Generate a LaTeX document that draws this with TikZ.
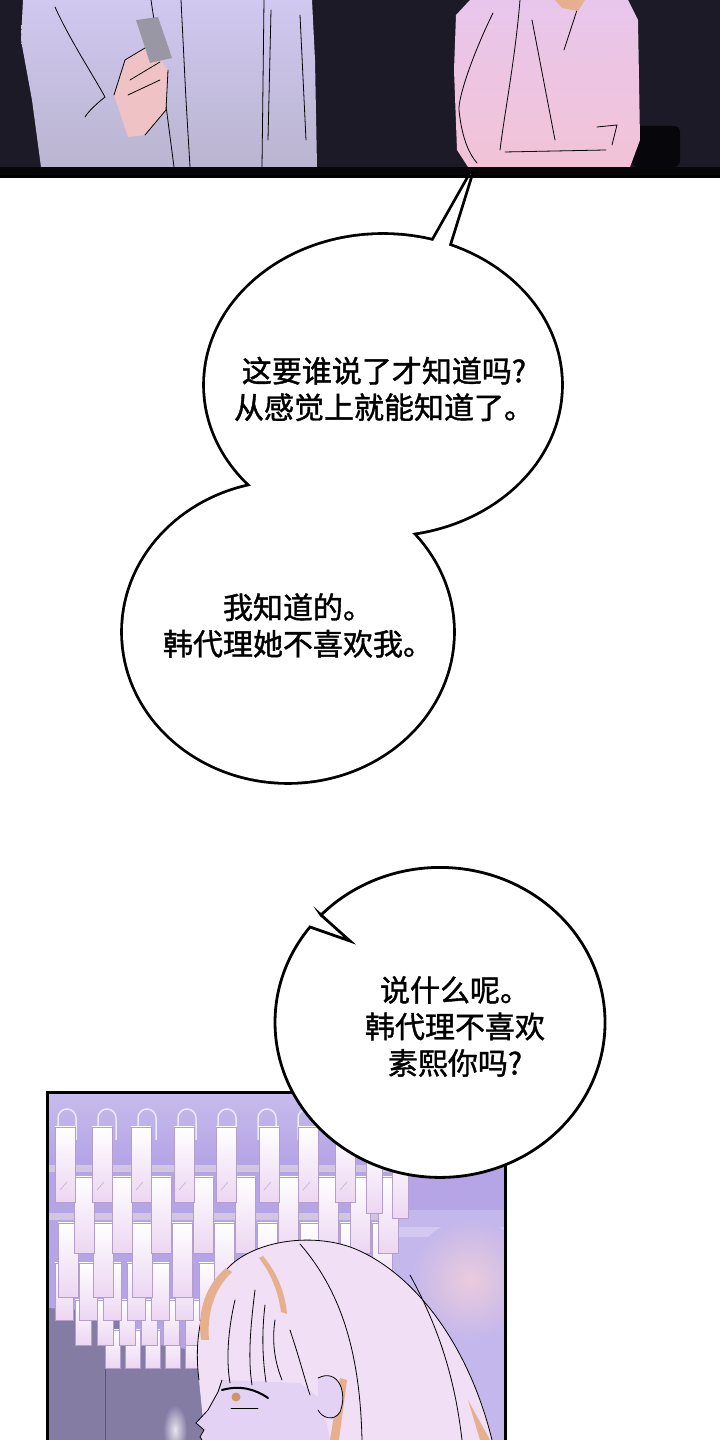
\documentclass[tikz,border=0pt]{standalone}
\usepackage{fontspec}
\newfontfamily\cjk[FakeBold=1.3]{Noto Sans CJK SC}
\definecolor{night}{HTML}{1C1A27}
\definecolor{shirtA}{HTML}{D0C8F0}
\definecolor{shirtB}{HTML}{BAB5D0}
\definecolor{blouseA}{HTML}{E8C6EC}
\definecolor{blouseB}{HTML}{F2C3D6}
\definecolor{skin}{HTML}{EFC3C6}
\definecolor{lilac}{HTML}{B5A5E6}
\definecolor{crystal}{HTML}{ECD6F2}
\definecolor{rim}{HTML}{B49ECB}
\definecolor{hair}{HTML}{F0DFF5}
\definecolor{face}{HTML}{E3D2F3}
\definecolor{streak}{HTML}{E6B08F}
\definecolor{dusk}{HTML}{857CA4}
\tikzset{
  say/.style={align=center,inner sep=0pt,font=\cjk\fontsize{30}{36.5}\selectfont},
  crys/.style={top color=white,bottom color=crystal,draw=rim,line width=0.6pt},
  ink/.style={line width=0.8pt,line cap=round}
}
\begin{document}
\begin{tikzpicture}[x=1pt,y=1pt]
\useasboundingbox (0,0) rectangle (720,1440);
\fill[white] (0,0) rectangle (720,1440);

\fill[night] (0,1264) rectangle (720,1440);
\fill[black!80!night] (0,1264) rectangle (720,1273);
\fill[black!75!night,rounded corners=6] (632,1273) rectangle (680,1314);
\shade[top color=shirtA,bottom color=shirtB] (23,1440) -- (21,1400) -- (32,1340) -- (41,1273) -- (317,1273) -- (315,1380) -- (312,1440) -- cycle;
\draw[ink] (55,1433) .. controls (70,1400) and (90,1370) .. (105,1343) .. controls (95,1335) and (88,1328) .. (85,1323);
\draw[ink] (151,1440) -- (160,1380) -- (174,1273);
\draw[ink] (181,1440) -- (186,1340) -- (190,1273);
\draw[ink] (264,1440) -- (262,1273);
\draw[ink] (271,1430) -- (268,1300);
\draw[ink] (300,1425) -- (306,1300);
\fill[skin] (114,1345) -- (125,1380) -- (150,1395) -- (168,1370) -- (166,1330) -- (145,1305) -- (128,1303) -- cycle;
\draw[ink] (114,1345) -- (125,1380) -- (150,1395);
\draw[ink] (168,1370) -- (166,1330) -- (145,1305);
\draw[ink] (130,1360) -- (160,1378);
\draw[ink] (128,1345) -- (160,1360);
\fill[gray!55!shirtB] (136,1420) -- (158,1423) -- (172,1382) -- (150,1377) -- cycle;

\shade[top color=blouseA,bottom color=blouseB] (470,1440) -- (456,1425) -- (454,1370) -- (457,1290) -- (468,1273) -- (630,1273) -- (640,1300) -- (638,1420) -- (628,1440) -- cycle;
\draw[ink] (493,1427) .. controls (470,1380) and (458,1340) .. (459,1330) .. controls (462,1300) and (470,1285) .. (477,1277);
\draw[ink] (532,1420) -- (541,1373) -- (555,1300);
\draw[ink] (578,1433) -- (564,1390);
\draw[ink] (505,1288) -- (606,1290);
\draw[ink] (597,1313) -- (617,1315) -- (612,1295);
\draw[ink] (520,1440) .. controls (515,1380) and (505,1330) .. (500,1290);
\fill[streak] (555,1440) -- (585,1440) -- (578,1429) -- (562,1432) -- cycle;

\begin{scope}
\clip (47,0) rectangle (505,347);
\fill[lilac] (47,0) rectangle (505,347);
\shade[top color=lilac!75!white,bottom color=lilac] (47,280) rectangle (505,347);
\fill[lilac!80!white] (392,0) rectangle (505,230);
\fill[lilac!60!white] (392,203) rectangle (505,213);
\shade[inner color=pink!60!lilac!70!white,outer color=lilac!80!white] (470,160) circle (60);
\fill[dusk] (47,0) -- (47,132) -- (110,128) -- (160,95) -- (205,88) -- (205,0) -- cycle;
\draw[dusk!70!black] (105,0) -- (105,110);
\shade[inner color=white!80!dusk,outer color=dusk] (175,10) ellipse (12 and 25);
\foreach \x in {58,98,138,178,218,258,298,338} {\draw[white!75!lilac,line width=1.5pt] (\x,300) -- (\x,322) arc[start angle=180,end angle=0,radius=9] -- (\x+18,300);}
\fill[rim!60!white] (47,268) rectangle (400,275);
\fill[rim!60!white] (47,220) rectangle (392,227);
\foreach \x in {105,125,...,285} {\shade[crys] (\x,72) rectangle ++(15,38);}
\foreach \x in {75,97,...,295} {\shade[crys] (\x,95) rectangle ++(16,45);}
\foreach \x in {55,79,...,335} {\shade[crys] (\x,120) rectangle ++(18,57);}
\foreach \x in {58,93,132,172,214,257,300,340,372} {\shade[crys] (\x,143) rectangle ++(20,74);}
\foreach \x in {74,112,151,193,235,278,318,350,378} {\shade[crys] (\x,187) rectangle ++(20,76);}
\foreach \x in {55,92,131,174,216,259,298,335} {\shade[crys] (\x,238) rectangle ++(20,75); \draw[rim] (\x+5,250) -- (\x+12,258);}
\foreach \x/\y in {366/227,392/222} {\shade[crys] (\x,\y) rectangle ++(16,70);}

\fill[hair] (199,60) .. controls (193,105) and (203,150) .. (232,176) .. controls (262,202) and (322,208) .. (362,188) .. controls (420,160) and (470,90) .. (492,0) -- (205,0) -- cycle;
\draw[ink] (199,60) .. controls (193,105) and (203,150) .. (232,176) .. controls (262,202) and (322,208) .. (362,188) .. controls (420,160) and (470,90) .. (492,0);
\fill[streak] (263,184) .. controls (275,170) and (285,150) .. (287,126) -- (281,128) .. controls (278,150) and (270,168) .. (259,182) -- cycle;
\fill[streak] (201,100) .. controls (197,130) and (206,155) .. (226,172) -- (232,168) .. controls (213,150) and (207,125) .. (209,100) -- cycle;
\fill[streak] (330,0) -- (340,62) -- (347,60) -- (339,0) -- cycle;
\fill[streak] (468,40) -- (480,0) -- (490,0) -- cycle;
\fill[face] (222,60) -- (218,48) -- (208,30) -- (196,17) -- (204,10) -- (200,3) -- (202,0) -- (330,0) -- (322,40) -- (300,57) -- cycle;
\draw[ink] (222,60) -- (218,48) -- (208,30) -- (196,17) -- (204,10) -- (200,3) -- (202,0);
\draw[ink] (300,196) .. controls (340,150) and (360,90) .. (362,0);
\draw[ink] (410,165) .. controls (440,110) and (455,60) .. (462,0);
\draw[ink] (235,140) .. controls (228,110) and (226,80) .. (230,57);
\draw[ink] (255,150) .. controls (250,110) and (248,80) .. (252,55);
\draw[ink] (265,135) .. controls (262,110) and (262,85) .. (266,58);
\draw[ink] (275,120) .. controls (272,100) and (274,80) .. (282,60);
\draw[ink] (290,110) .. controls (300,80) and (305,60) .. (310,45);
\draw[line width=2pt,line cap=round] (222,50) .. controls (240,55) and (255,51) .. (268,42);
\fill[brown!70!pink] (236,43) circle (4.5);
\draw[ink] (231,32) -- (258,32);
\fill[face] (318,62) .. controls (338,72) and (348,48) .. (340,28) .. controls (334,18) and (322,22) .. (318,30) -- cycle;
\draw[ink] (318,62) .. controls (338,72) and (348,48) .. (340,28) .. controls (334,18) and (322,22) .. (318,30);
\end{scope}
\draw[line width=3pt] (47,-2) -- (47,347) -- (505,347) -- (505,-2);

\filldraw[fill=white,line width=2.8pt,line join=miter] (321,525) -- (350,499) -- (310,513) arc[start angle=142,end angle=496.15,x radius=165,y radius=155] -- cycle;

\draw[line width=5.6pt] (383,1055) ellipse [x radius=178,y radius=150];
\draw[line width=5.6pt] (288,808) ellipse [x radius=165,y radius=150];
\draw[line width=5.6pt,line join=round] (432,1197) -- (471,1266) -- (448,1192) -- (440,1180) -- cycle;
\fill[white] (383,1055) ellipse [x radius=178,y radius=150];
\fill[white] (288,808) ellipse [x radius=165,y radius=150];
\fill[white] (432,1197) -- (471,1266) -- (448,1192) -- (440,1180) -- cycle;
\draw[line width=3pt] (0,1263.5) -- (720,1263.5);

\node[say] (ask) at (384,1051) {这要谁说了才知道吗?\\从感觉上就能知道了。};
\node[say] (know) at (298,814.5) {我知道的。\\韩代理她不喜欢我。};
\node[say] (reply) at (455,413.5) {说什么呢。\\韩代理不喜欢\\素熙你吗?};
\end{tikzpicture}
\end{document}
